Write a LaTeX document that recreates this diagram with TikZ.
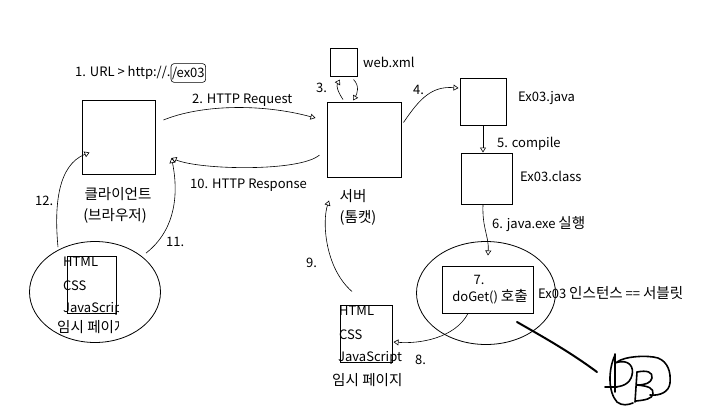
\documentclass[tikz,border=0pt]{standalone}
\usepackage{fontspec}
\setmainfont{Noto Sans CJK KR}
\newfontfamily\kr[Scale=1.12]{Noto Sans CJK KR}
\usetikzlibrary{arrows.meta,calc,shapes.geometric}
\begin{document}
\begin{tikzpicture}[x=1pt,y=-1pt,
  font=\fontsize{13}{15}\selectfont,
  box/.style={draw, line width=1pt, inner sep=0pt},
  conn/.style={draw, line width=0.6pt, -{Triangle[open,length=5pt,width=6pt]}},
  lbl/.style={anchor=west, inner sep=0pt},
  krf/.style={font=\fontsize{13}{15}\selectfont\kr},
  ell/.style={draw, ellipse, line width=0.8pt, inner sep=0pt}]
\useasboundingbox (0,0) rectangle (726,408);
\fill[white] (0,0) rectangle (726,408);

% boxes
\node[box, minimum width=73pt, minimum height=74pt] (client) at (118.5,137) {};
\node[box, minimum width=74pt, minimum height=75pt] (server) at (364,139.5) {};
\node[box, minimum width=27pt, minimum height=28pt] (webxml) at (343.5,62) {};
\node[box, minimum width=46pt, minimum height=47pt] (java) at (483,101.5) {};
\node[box, minimum width=51pt, minimum height=51pt] (class) at (486.5,178.5) {};
\node[ell, minimum width=139pt, minimum height=103pt] (rell) at (486,293) {};
\node[box, minimum width=91pt, minimum height=47pt] (inner) at (487.5,289.5) {};
\node[box, minimum width=52pt, minimum height=57pt] (page) at (366,333.5) {};
\node[ell, minimum width=131pt, minimum height=101pt] (lell) at (95,292) {};
\node[box, minimum width=49pt, minimum height=57pt] (lpage) at (91.5,284.5) {};

% labels
\node[lbl] (t1) at (75,73) {1. URL > http://.};
\node[draw, rounded corners=3pt, anchor=west, inner xsep=1pt, inner ysep=3pt, line width=0.6pt] (ex) at (t1.east) {/ex03};
\node[lbl] (t2) at (192,100) {2. HTTP Request};
\node[lbl] (t3) at (316,88) {3.};
\node[lbl] (twx) at (363,62) {web.xml};
\node[lbl] (t4) at (413,90) {4.};
\node[lbl] (tjava) at (518,98) {Ex03.java};
\node[lbl] (t5) at (497,144) {5. compile};
\node[lbl] (tclass) at (520,176) {Ex03.class};
\node[lbl] (t6) at (492,224) {6. java.exe {\kr 실행}};
\node[inner sep=0pt] (t7a) at (479,280) {7.};
\node[inner sep=0pt] (t7b) at (490,297) {doGet() {\kr 호출}};
\node[lbl] (tinst) at (538,293) {Ex03 {\kr 인스턴스} == {\kr 서블릿}};
\node[lbl] (t8) at (415,360) {8.};
\node[lbl] (t9) at (306,263) {9.};
\node[lbl] (t10) at (190,185) {10. HTTP Response};
\node[lbl] (t11) at (166,242) {11.};
\node[lbl] (t12) at (35,201) {12.};
\node[krf] (tcl) at (118,194) {클라이언트};
\node[krf] (tbr) at (115,216) {(브라우저)};
\node[krf] (tsv) at (353,196) {서버};
\node[krf] (ttc) at (358,218) {(톰캣)};

% page texts
\node[lbl] (ph) at (339,311) {HTML};
\node[lbl] (pc) at (339,335) {CSS};
\node[lbl] (pj) at (338,358) {JavaScript};
\node[lbl, krf] (pt) at (332,380) {임시 페이지};
\begin{scope}
  \clip (0,240) rectangle (118,345);
  \node[lbl] (lh) at (63,262) {HTML};
  \node[lbl] (lc) at (63,286) {CSS};
  \node[lbl] (lj) at (63,309) {JavaScript};
  \node[lbl, krf] (lt) at (57,327) {임시 페이지};
\end{scope}

% connectors
\draw[conn] ([shift={(8,-17)}]client.east) .. controls (200,105) and (260,103) .. ([shift={(-11,-21.5)}]server.west);
\draw[conn] ([shift={(-21,-2)}]server.north) .. controls (338,92) and (336,86) .. ([shift={(-3.5,3)}]webxml.south);
\draw[conn] ([shift={(10,3)}]webxml.south) .. controls (360,86) and (357,94) .. ([shift={(-11,-1)}]server.north);
\draw[conn] ([shift={(2,-17)}]server.east) .. controls (420,98) and (432,86) .. ([shift={(-1,-13.5)}]java.west);
\draw[conn] (java.south) -- ([xshift=-3.5]class.north);
\draw[conn] ([xshift=-3.5]class.south) .. controls (482,228) and (489,236) .. ([shift={(0.5,-10)}]inner.north);
\draw[conn] ([xshift=-19.5]inner.south) .. controls (455,338) and (420,344) .. ([shift={(1,8.5)}]page.east);
\draw[conn] ([shift={(-14,-13)}]page.north) .. controls (325,268) and (322,222) .. ([shift={(-35,23)}]server.south);
\draw[conn] ([shift={(-7,15.5)}]server.west) .. controls (300,172) and (200,170) .. ([shift={(16,21)}]client.east);
\draw[conn] ([shift={(51,12)}]lell.north) .. controls (182,225) and (176,180) .. ([shift={(16,21)}]client.east);
\draw[conn] ([shift={(-37,6)}]lell.north) .. controls (54,205) and (58,165) .. ([shift={(8,-22)}]client.south west);

% thick stroke and handwriting
\draw[line width=2pt, line cap=round] (517,322) .. controls (545,338) and (570,352) .. (597,372);
\begin{scope}[line width=1.6pt, line cap=round, line join=round]
  \draw (615,355) .. controls (608,370) and (608,392) .. (617,402) .. controls (622,406) and (628,405) .. (633,403);
  \draw (615,354) -- (615,392);
  \draw (615,363) .. controls (630,358) and (634,368) .. (632,375) .. controls (630,384) and (622,387) .. (613,387);
  \draw (605,387) -- (617,387);
  \draw (637,372) -- (635,402);
  \draw (637,372) .. controls (647,370) and (653,372) .. (652,378) .. controls (651,383) and (645,385) .. (637,385);
  \draw (637,385) .. controls (648,386) and (654,388) .. (653,394) .. controls (652,399) and (645,400) .. (636,401);
  \draw (617,362) .. controls (625,356) and (648,355) .. (658,358) .. controls (668,362) and (671,372) .. (670,383) .. controls (669,392) and (660,396) .. (650,395);
\end{scope}
\end{tikzpicture}
\end{document}
